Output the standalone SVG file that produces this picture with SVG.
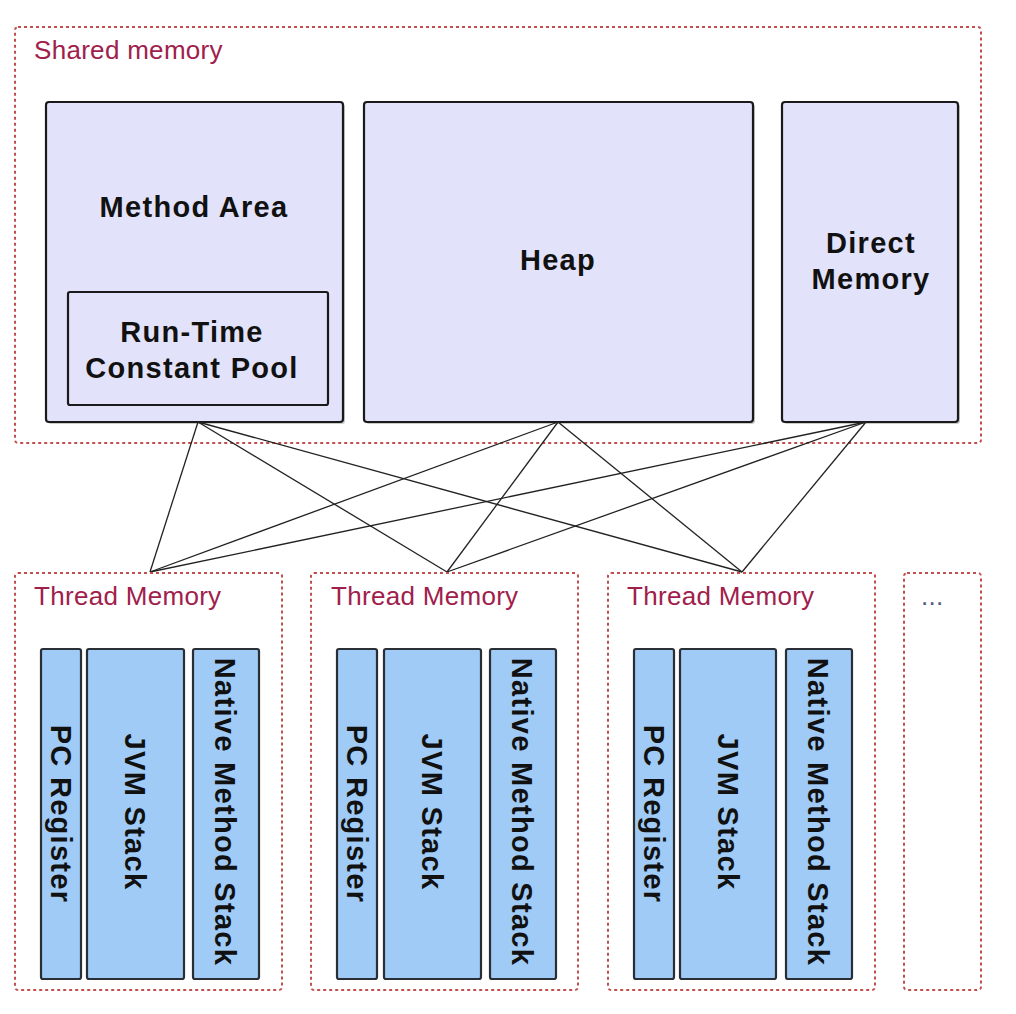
<svg xmlns="http://www.w3.org/2000/svg" width="1016" height="1014" viewBox="0 0 1016 1014">
<style>
.region{fill:none;stroke:#c0504d;stroke-width:2;stroke-dasharray:3 3}
.rlabel{font-family:"Liberation Sans",Arial,sans-serif;font-size:26px;letter-spacing:0.3px;fill:#a0204c}
.box{fill:#e2e2fa;stroke:#1a1a1a;stroke-width:2.2}
.col{fill:#9fcbf6;stroke:#2a2f35;stroke-width:2.2}
.shadow{fill:#8a8a8a;opacity:0.45}
.lbl{font-family:"Liberation Sans",Arial,sans-serif;font-size:29px;font-weight:bold;fill:#111;letter-spacing:1.3px;text-anchor:middle}
.conn{stroke:#222;stroke-width:1.3;fill:none}
</style>
<rect width="1016" height="1014" fill="#ffffff"/>

<g id="shared-memory">
<rect class="region" x="15" y="27" width="966" height="416" rx="3"/>
<text class="rlabel" x="34" y="59">Shared memory</text>
</g>

<g id="method-area">
<rect class="shadow" x="48" y="104" width="297" height="320" rx="3"/>
<rect class="box" x="46" y="102" width="297" height="320" rx="3"/>
<text class="lbl" x="194" y="217">Method Area</text>
</g>
<g id="runtime-constant-pool">
<rect class="box" x="68" y="292" width="260" height="113" rx="2"/>
<text class="lbl" x="192" y="342">Run-Time</text>
<text class="lbl" x="192" y="378">Constant Pool</text>
</g>
<g id="heap">
<rect class="shadow" x="366" y="104" width="389" height="320" rx="3"/>
<rect class="box" x="364" y="102" width="389" height="320" rx="3"/>
<text class="lbl" x="558" y="270">Heap</text>
</g>
<g id="direct-memory">
<rect class="shadow" x="784" y="104" width="176" height="320" rx="3"/>
<rect class="box" x="782" y="102" width="176" height="320" rx="3"/>
<text class="lbl" x="871" y="253">Direct</text>
<text class="lbl" x="871" y="289">Memory</text>
</g>

<g id="connectors">
<line class="conn" x1="198" y1="422" x2="150" y2="572"/>
<line class="conn" x1="198" y1="422" x2="447" y2="572"/>
<line class="conn" x1="198" y1="422" x2="742" y2="572"/>
<line class="conn" x1="558" y1="422" x2="150" y2="572"/>
<line class="conn" x1="558" y1="422" x2="447" y2="572"/>
<line class="conn" x1="558" y1="422" x2="742" y2="572"/>
<line class="conn" x1="866" y1="422" x2="150" y2="572"/>
<line class="conn" x1="866" y1="422" x2="447" y2="572"/>
<line class="conn" x1="866" y1="422" x2="742" y2="572"/>
</g>

<g id="thread-memory-1">
<rect class="region" x="15" y="573" width="267" height="417" rx="3"/>
<text class="rlabel" x="34" y="605">Thread Memory</text>
<rect class="col" x="41" y="649" width="40" height="330" rx="2"/>
<text class="lbl" transform="translate(61,814) rotate(90)" x="0" y="10">PC Register</text>
<rect class="col" x="87" y="649" width="97" height="330" rx="2"/>
<text class="lbl" transform="translate(135,812) rotate(90)" x="0" y="10">JVM Stack</text>
<rect class="col" x="193" y="649" width="66" height="330" rx="2"/>
<text class="lbl" transform="translate(225,812) rotate(90)" x="0" y="10">Native Method Stack</text>
</g>

<g id="thread-memory-2">
<rect class="region" x="311" y="573" width="267" height="417" rx="3"/>
<text class="rlabel" x="331" y="605">Thread Memory</text>
<rect class="col" x="337" y="649" width="40" height="330" rx="2"/>
<text class="lbl" transform="translate(357,814) rotate(90)" x="0" y="10">PC Register</text>
<rect class="col" x="384" y="649" width="97" height="330" rx="2"/>
<text class="lbl" transform="translate(432,812) rotate(90)" x="0" y="10">JVM Stack</text>
<rect class="col" x="490" y="649" width="66" height="330" rx="2"/>
<text class="lbl" transform="translate(522,812) rotate(90)" x="0" y="10">Native Method Stack</text>
</g>

<g id="thread-memory-3">
<rect class="region" x="608" y="573" width="267" height="417" rx="3"/>
<text class="rlabel" x="627" y="605">Thread Memory</text>
<rect class="col" x="634" y="649" width="40" height="330" rx="2"/>
<text class="lbl" transform="translate(654,814) rotate(90)" x="0" y="10">PC Register</text>
<rect class="col" x="680" y="649" width="96" height="330" rx="2"/>
<text class="lbl" transform="translate(728,812) rotate(90)" x="0" y="10">JVM Stack</text>
<rect class="col" x="786" y="649" width="66" height="330" rx="2"/>
<text class="lbl" transform="translate(818,812) rotate(90)" x="0" y="10">Native Method Stack</text>
</g>

<g id="thread-memory-more">
<rect class="region" x="904" y="573" width="77" height="417" rx="3"/>
<text class="rlabel" x="921" y="605" style="fill:#555a80">...</text>
</g>
</svg>
